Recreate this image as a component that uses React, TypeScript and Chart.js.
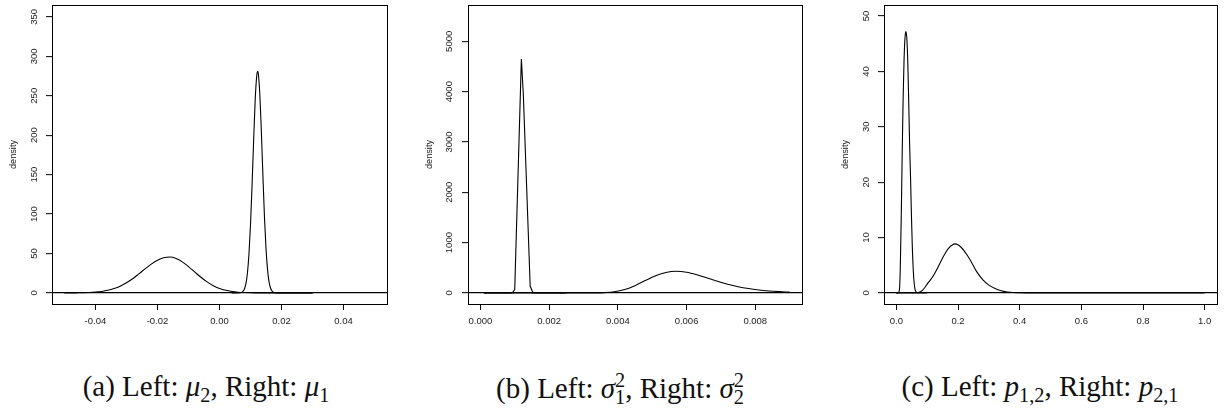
import React, { useEffect, useRef } from "react";
import { Chart, registerables } from "chart.js";

Chart.register(...registerables);

// ---------- Panel (a): Left mu_2, Right mu_1 ----------
const A_X_TICKS = [-0.04, -0.02, 0, 0.02, 0.04];
const A_X_LABELS = ["-0.04", "-0.02", "0.00", "0.02", "0.04"];
const A_Y_TICKS = [0, 50, 100, 150, 200, 250, 300, 350];
const A_Y_LABELS = ["0", "50", "100", "150", "200", "250", "300", "350"];
const A_LEFT_X = [-0.05, -0.048, -0.046, -0.044, -0.042, -0.04, -0.038, -0.036, -0.034, -0.032, -0.03, -0.028, -0.026, -0.024, -0.022, -0.02, -0.018, -0.016, -0.014, -0.012, -0.01, -0.008, -0.006, -0.004, -0.002, 0.0, 0.002, 0.004, 0.006, 0.008, 0.01, 0.012, 0.014, 0.03];
const A_LEFT_Y = [0.02, 0.05, 0.12, 0.25, 0.52, 1.02, 1.9, 3.3, 5.5, 8.6, 12.8, 18.0, 24.1, 30.5, 36.5, 41.5, 44.6, 45.5, 43.7, 39.4, 33.4, 26.6, 19.9, 14.0, 9.2, 5.7, 3.3, 1.8, 0.93, 0.45, 0.2, 0.09, 0.04, 0];
const A_RIGHT_X = [0.004, 0.006, 0.0065, 0.007, 0.0075, 0.008, 0.0085, 0.009, 0.0095, 0.01, 0.0105, 0.011, 0.0115, 0.012, 0.0123, 0.0125, 0.013, 0.0135, 0.014, 0.0145, 0.015, 0.0155, 0.016, 0.0165, 0.017, 0.0175, 0.018, 0.0185, 0.019, 0.03];
const A_RIGHT_Y = [0, 0.04, 0.16, 0.55, 1.7, 4.6, 11.4, 25.0, 49.3, 86.7, 136.8, 193.0, 243.7, 275.4, 281, 278.5, 252.0, 204.0, 147.9, 95.8, 55.6, 28.9, 13.4, 5.6, 2.1, 0.7, 0.2, 0.05, 0.01, 0];

// ---------- Panel (b): Left sigma_1^2, Right sigma_2^2 ----------
const B_X_TICKS = [0, 0.002, 0.004, 0.006, 0.008];
const B_X_LABELS = ["0.000", "0.002", "0.004", "0.006", "0.008"];
const B_Y_TICKS = [0, 1000, 2000, 3000, 4000, 5000];
const B_Y_LABELS = ["0", "1000", "2000", "3000", "4000", "5000"];
const B_LEFT_X = [0.0001, 0.00085, 0.00093, 0.001, 0.001193, 0.00125, 0.00145, 0.00153, 0.0016, 0.0025];
const B_LEFT_Y = [0, 0, 2, 66, 4650, 3950, 131, 3, 0, 0];
const B_RIGHT_X = [0.0001, 0.0027, 0.003, 0.0033, 0.0036, 0.0039, 0.0042, 0.0045, 0.0048, 0.0051, 0.0054, 0.0057, 0.006, 0.0063, 0.0066, 0.0069, 0.0072, 0.0075, 0.0078, 0.0081, 0.0084, 0.0087, 0.009];
const B_RIGHT_Y = [0, 0, 0.04, 0.64, 5.0, 22.5, 66.9, 144.5, 245.3, 341.6, 407.6, 430, 410.5, 361.2, 297.5, 231.9, 173.1, 124.5, 86.8, 59.1, 39.5, 25.9, 16.8];

// ---------- Panel (c): Left p_{1,2}, Right p_{2,1} ----------
const C_X_TICKS = [0, 0.2, 0.4, 0.6, 0.8, 1.0];
const C_X_LABELS = ["0.0", "0.2", "0.4", "0.6", "0.8", "1.0"];
const C_Y_TICKS = [0, 10, 20, 30, 40, 50];
const C_Y_LABELS = ["0", "10", "20", "30", "40", "50"];
const C_LEFT_X = [0.0, 0.005, 0.01, 0.013, 0.016, 0.019, 0.022, 0.025, 0.028, 0.031, 0.034, 0.037, 0.04, 0.043, 0.046, 0.049, 0.052, 0.055, 0.058, 0.061, 0.064, 0.07, 0.1];
const C_LEFT_Y = [0, 0, 0.5, 5, 14, 25, 35, 42, 46, 47.2, 46, 42, 35, 27, 21, 14, 8, 4, 1.7, 0.6, 0.2, 0, 0];
const C_RIGHT_X = [0.0, 0.06, 0.07, 0.08, 0.09, 0.1, 0.11, 0.12, 0.13, 0.14, 0.15, 0.16, 0.17, 0.18, 0.19, 0.2, 0.21, 0.22, 0.23, 0.24, 0.25, 0.26, 0.28, 0.3, 0.32, 0.34, 0.36, 0.38, 0.4, 0.42, 1.0];
const C_RIGHT_Y = [0, 0, 0.05, 0.25, 0.8, 1.6, 2.3, 3.1, 4.1, 5.2, 6.3, 7.3, 8.1, 8.6, 8.85, 8.7, 8.25, 7.6, 6.8, 5.9, 4.9, 3.9, 2.4, 1.4, 0.8, 0.4, 0.18, 0.07, 0.02, 0, 0];

const CAPTIONS = ["(a)", "(b)", "(c)"];

const FONT_FAMILY = "'Liberation Sans', Arial, sans-serif";
const TEXT_COLOR = "#1a1a1a";

const boxPlugin = {
  id: "rbox",
  afterDatasetsDraw(chart: any) {
    const { ctx, chartArea: a } = chart;
    ctx.save();
    ctx.strokeStyle = "#000";
    ctx.lineWidth = 1;
    ctx.strokeRect(Math.round(a.left) + 0.5, Math.round(a.top) + 0.5, Math.round(a.right - a.left), Math.round(a.bottom - a.top));
    ctx.restore();
  },
};

type Series = { x: number[]; y: number[]; smooth: boolean };
type Panel = {
  canvasLeft: number;
  canvasWidth: number;
  padRight: number;
  xMin: number;
  xMax: number;
  yMin: number;
  yMax: number;
  xTicks: number[];
  xLabels: string[];
  yTicks: number[];
  yLabels: string[];
  yLabelPad: number;
  series: Series[];
};

const PANELS: Panel[] = [
  {
    canvasLeft: 0, canvasWidth: 400, padRight: 13,
    xMin: -0.054, xMax: 0.054, yMin: -14.04, yMax: 365.04,
    xTicks: A_X_TICKS, xLabels: A_X_LABELS, yTicks: A_Y_TICKS, yLabels: A_Y_LABELS, yLabelPad: 3.6,
    series: [
      { x: A_LEFT_X, y: A_LEFT_Y, smooth: true },
      { x: A_RIGHT_X, y: A_RIGHT_Y, smooth: true },
    ],
  },
  {
    canvasLeft: 416, canvasWidth: 400, padRight: 14,
    xMin: -0.00036, xMax: 0.00936, yMin: -220, yMax: 5722,
    xTicks: B_X_TICKS, xLabels: B_X_LABELS, yTicks: B_Y_TICKS, yLabels: B_Y_LABELS, yLabelPad: 2.1,
    series: [
      { x: B_LEFT_X, y: B_LEFT_Y, smooth: false },
      { x: B_RIGHT_X, y: B_RIGHT_Y, smooth: true },
    ],
  },
  {
    canvasLeft: 832, canvasWidth: 393, padRight: 8,
    xMin: -0.04, xMax: 1.04, yMin: -2, yMax: 52,
    xTicks: C_X_TICKS, xLabels: C_X_LABELS, yTicks: C_Y_TICKS, yLabels: C_Y_LABELS, yLabelPad: 6,
    series: [
      { x: C_LEFT_X, y: C_LEFT_Y, smooth: true },
      { x: C_RIGHT_X, y: C_RIGHT_Y, smooth: true },
    ],
  },
];

function PanelChart({ p }: { p: Panel }) {
  const ref = useRef<HTMLCanvasElement | null>(null);
  useEffect(() => {
    if (!ref.current) return;
    const tickFont = { family: FONT_FAMILY, size: 9.5 };
    const chart = new Chart(ref.current, {
      type: "scatter",
      data: {
        datasets: p.series.map((s) => ({
          data: s.x.map((x, i) => ({ x, y: s.y[i] })),
          showLine: true,
          borderColor: "#000",
          borderWidth: 1.1,
          pointRadius: 0,
          pointHoverRadius: 0,
          fill: false,
          tension: 0,
          cubicInterpolationMode: s.smooth ? "monotone" : "default",
        })) as any,
      },
      options: {
        responsive: false,
        animation: false,
        events: [],
        layout: { padding: { left: 0, top: 5, right: p.padRight, bottom: 0 } },
        plugins: { legend: { display: false }, tooltip: { enabled: false }, title: { display: false } },
        scales: {
          x: {
            type: "linear",
            position: "bottom",
            min: p.xMin,
            max: p.xMax,
            afterBuildTicks: (s: any) => {
              s.ticks = p.xTicks.map((v) => ({ value: v }));
            },
            afterFit: (s: any) => {
              s.height = 36;
              s.paddingLeft = 0;
              s.paddingRight = 0;
            },
            grid: { drawOnChartArea: false, drawTicks: true, tickLength: 6, tickWidth: 1, tickColor: "#000", color: "transparent" },
            border: { display: false },
            ticks: {
              padding: 6,
              color: TEXT_COLOR,
              font: tickFont,
              autoSkip: false,
              maxRotation: 0,
              minRotation: 0,
              callback: (_v: any, i: number) => p.xLabels[i],
            },
          },
          y: {
            type: "linear",
            position: "left",
            min: p.yMin,
            max: p.yMax,
            afterBuildTicks: (s: any) => {
              s.ticks = p.yTicks.map((v) => ({ value: v }));
            },
            afterFit: (s: any) => {
              s.width = 52;
              s.paddingTop = 0;
              s.paddingBottom = 0;
            },
            grid: {
              drawOnChartArea: true,
              drawTicks: true,
              tickLength: 6,
              tickWidth: 1,
              tickColor: "#000",
              color: (ctx: any) => (ctx.tick && ctx.tick.value === 0 ? "#000" : "transparent"),
              lineWidth: 1.3,
            },
            border: { display: false },
            title: {
              display: true,
              text: "density",
              color: TEXT_COLOR,
              font: { family: FONT_FAMILY, size: 9.2 },
              padding: { top: 7.8, bottom: 0 },
            },
            ticks: {
              padding: p.yLabelPad,
              color: TEXT_COLOR,
              font: tickFont,
              autoSkip: false,
              minRotation: 90,
              maxRotation: 90,
              crossAlign: "center",
              callback: (_v: any, i: number) => p.yLabels[i],
            },
          },
        },
      } as any,
      plugins: [boxPlugin],
    });
    return () => chart.destroy();
  }, [p]);
  return (
    <canvas
      ref={ref}
      width={p.canvasWidth}
      height={340}
      style={{ position: "absolute", left: p.canvasLeft, top: 0, width: p.canvasWidth, height: 340 }}
    />
  );
}

const capStyle: React.CSSProperties = {
  position: "absolute",
  top: 372,
  width: 420,
  textAlign: "center",
  fontFamily: "'Liberation Serif', 'Times New Roman', serif",
  fontSize: 29,
  lineHeight: 1,
  color: "#111",
  whiteSpace: "nowrap",
};
const subStyle: React.CSSProperties = { fontSize: "0.7em", verticalAlign: "-0.3em", lineHeight: 0 };

function SupSub({ sup, sub }: { sup: string; sub: string }) {
  return (
    <span style={{ display: "inline-block", verticalAlign: "-0.3em", fontSize: "0.7em", lineHeight: 0.85, textAlign: "left" }}>
      <span style={{ display: "block" }}>{sup}</span>
      <span style={{ display: "block" }}>{sub}</span>
    </span>
  );
}

export default function App() {
  return (
    <div style={{ position: "fixed", left: 0, top: 0, width: 1225, height: 414, background: "#fff", overflow: "hidden" }}>
      {PANELS.map((p, i) => (
        <PanelChart key={i} p={p} />
      ))}
      <div style={{ ...capStyle, left: 206 - 210 }}>
        {CAPTIONS[0]} Left: <i>μ</i><span style={subStyle}>2</span>, Right: <i>μ</i><span style={subStyle}>1</span>
      </div>
      <div style={{ ...capStyle, left: 620 - 210 }}>
        {CAPTIONS[1]} Left: <i>σ</i><SupSub sup="2" sub="1" />, Right: <i>σ</i><SupSub sup="2" sub="2" />
      </div>
      <div style={{ ...capStyle, left: 1040 - 210 }}>
        {CAPTIONS[2]} Left: <i>p</i><span style={subStyle}>1,2</span>, Right: <i>p</i><span style={subStyle}>2,1</span>
      </div>
    </div>
  );
}
